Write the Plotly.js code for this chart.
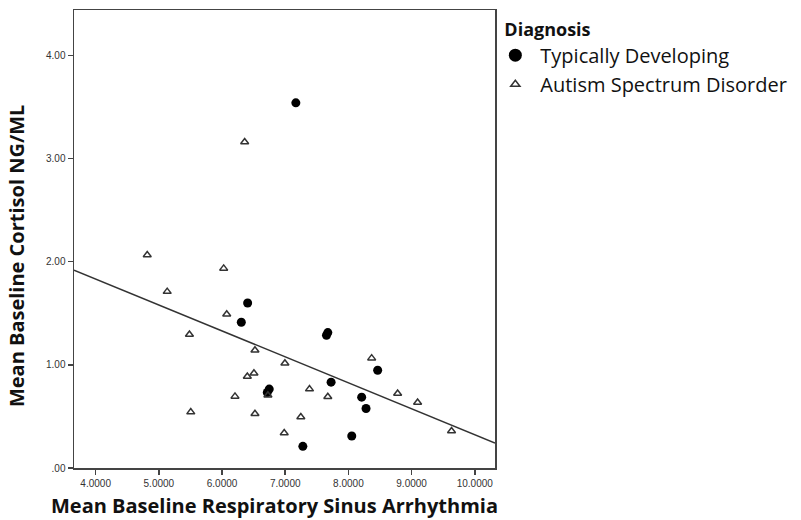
<!DOCTYPE html>
<html><head><meta charset="utf-8">
<script src="https://cdn.plot.ly/plotly-3.0.1.min.js"></script>
<style>html,body{margin:0;padding:0;background:#fff}#chart{width:801px;height:520px}</style>
</head><body><div id="chart"></div>
<script>
const tdX = [7.168, 6.405, 6.305, 7.674, 7.653, 8.463, 7.726, 6.747, 6.716, 8.210, 8.279, 8.053, 7.279];
const tdY = [3.540, 1.600, 1.413, 1.313, 1.287, 0.948, 0.832, 0.765, 0.732, 0.687, 0.577, 0.310, 0.210];
const asdX = [6.358, 4.816, 6.026, 5.132, 6.074, 5.484, 6.521, 6.995, 8.368, 6.505, 6.400, 7.384, 6.205, 6.726, 7.674, 8.779, 9.095, 5.505, 6.521, 7.247, 6.984, 9.632];
const asdY = [3.161, 2.065, 1.935, 1.710, 1.490, 1.294, 1.142, 1.016, 1.065, 0.919, 0.887, 0.765, 0.694, 0.706, 0.690, 0.723, 0.635, 0.542, 0.526, 0.494, 0.339, 0.358];
const fitIntercept = 2.839;
const fitSlope = -0.2517;
const xRange = [3.657, 10.32];
const yRange = [0, 4.44];
const xTicks = [4, 5, 6, 7, 8, 9, 10];
const xTickText = ["4.0000", "5.0000", "6.0000", "7.0000", "8.0000", "9.0000", "10.0000"];
const yTicks = [0, 1, 2, 3, 4];
const yTickText = [".00", "1.00", "2.00", "3.00", "4.00"];
const groupNames = ["Typically Developing", "Autism Spectrum Disorder"];
const xTitle = "Mean Baseline Respiratory Sinus Arrhythmia";
const yTitle = "Mean Baseline Cortisol NG/ML";
const legendTitle = "Diagnosis";

const fitX = xRange.slice();
const fitY = fitX.map(x => fitIntercept + fitSlope * x);

const tdMarker = {symbol: 'circle', size: 9, color: '#000'};
const asdMarker = {symbol: 'triangle-up-open', size: 7, color: '#333', line: {width: 1.5, color: '#333'}};

const traces = [
  {x: fitX, y: fitY, mode: 'lines', line: {color: '#333', width: 1.5}, showlegend: false, hoverinfo: 'skip'},
  {x: tdX, y: tdY, mode: 'markers', name: groupNames[0], showlegend: false, marker: tdMarker},
  {x: asdX, y: asdY, mode: 'markers', name: groupNames[1], showlegend: false, marker: asdMarker},
  // legend-only entries (no data points) with legend-sized symbols
  {x: [null], y: [null], mode: 'markers', name: groupNames[0], marker: Object.assign({}, tdMarker, {size: 13})},
  {x: [null], y: [null], mode: 'markers', name: groupNames[1], marker: Object.assign({}, asdMarker, {size: 8})}
];

const axisCommon = {
  showgrid: false, zeroline: false, showline: true, mirror: true,
  linecolor: '#444', linewidth: 1.5, ticks: 'outside', ticklen: 5, tickcolor: '#444', tickwidth: 1.5,
  tickfont: {family: 'Liberation Sans, Arial', size: 10, color: '#333'}
};

const layout = {
  width: 801, height: 520,
  margin: {l: 74, r: 305, t: 10, b: 52},
  paper_bgcolor: '#fff', plot_bgcolor: '#fff',
  font: {family: 'Open Sans', color: '#111'},
  xaxis: Object.assign({}, axisCommon, {range: xRange, tickvals: xTicks, ticktext: xTickText}),
  yaxis: Object.assign({}, axisCommon, {range: yRange, tickvals: yTicks, ticktext: yTickText}),
  annotations: [
    {text: '<b>' + xTitle + '</b>', xref: 'paper', yref: 'paper', x: 0.476, y: -0.082,
     xanchor: 'center', yanchor: 'middle', showarrow: false,
     font: {family: 'Open Sans', size: 20, color: '#111'}},
    {text: '<b>' + yTitle + '</b>', xref: 'paper', yref: 'paper', x: -0.135, y: 0.463,
     xanchor: 'center', yanchor: 'middle', showarrow: false, textangle: -90,
     font: {family: 'Open Sans', size: 20, color: '#111'}}
  ],
  legend: {
    x: 1.015, xanchor: 'left', y: 0.995, yanchor: 'top',
    title: {text: '<b>' + legendTitle + '</b>', font: {family: 'Open Sans', size: 18, color: '#111'}},
    font: {family: 'Open Sans', size: 20, color: '#111'},
    indentation: -12, itemwidth: 40,
    bgcolor: 'rgba(0,0,0,0)'
  },
  showlegend: true
};

Plotly.newPlot('chart', traces, layout, {displayModeBar: false, staticPlot: true});
</script>
</body></html>
